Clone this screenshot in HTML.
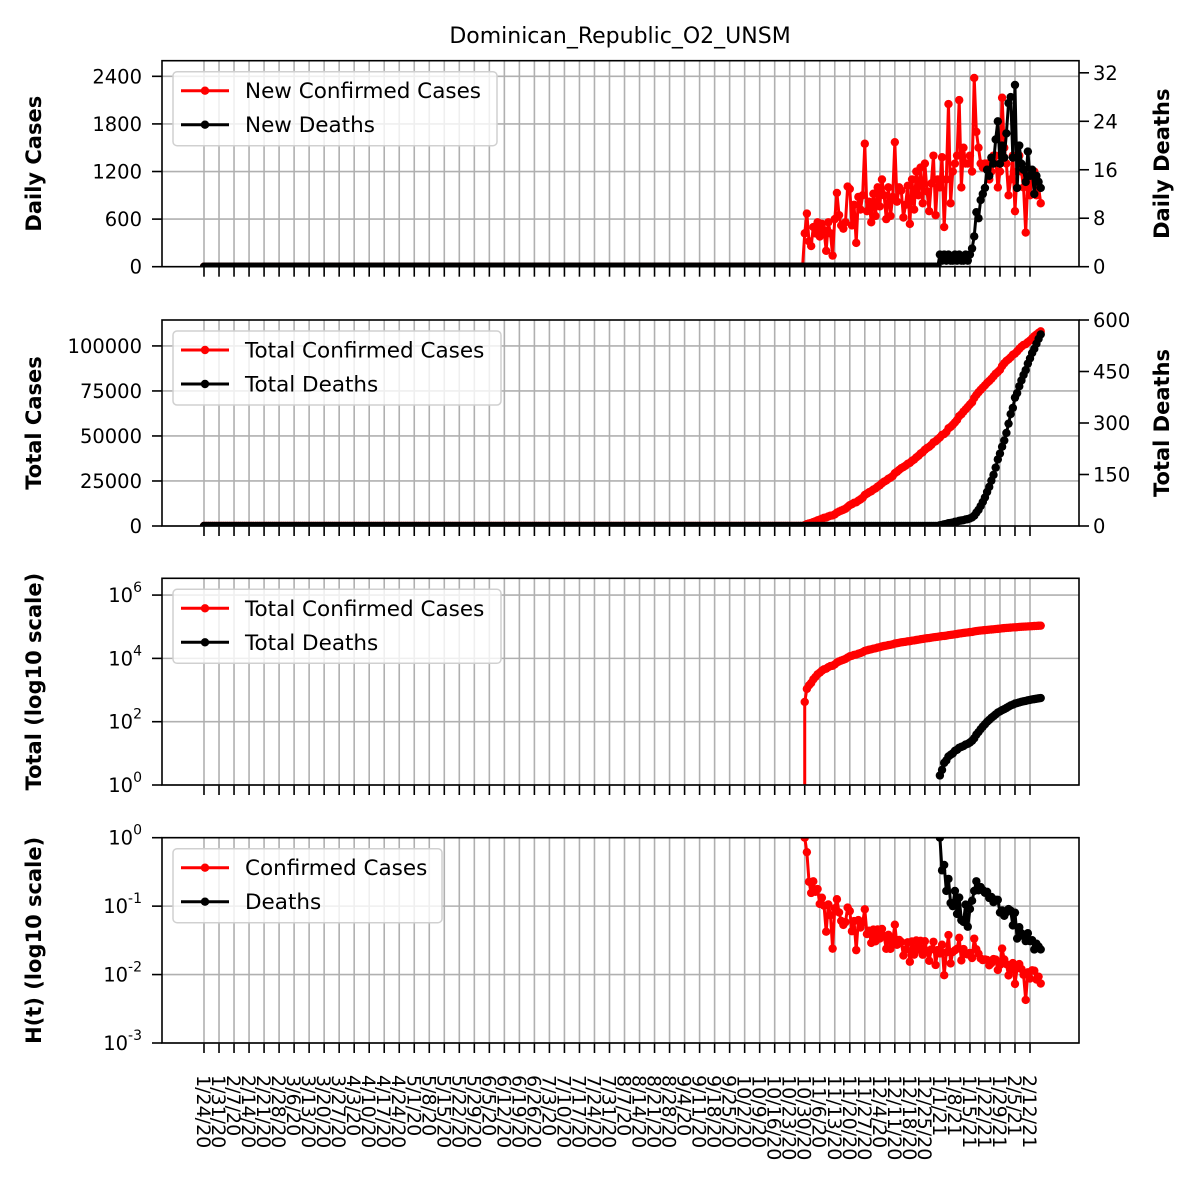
<!DOCTYPE html>
<html><head><meta charset="utf-8"><style>
body{margin:0;background:#fff}
svg{display:block;font-family:"DejaVu Sans","Liberation Sans",sans-serif}
</style></head><body>
<svg id="chart" width="1200" height="1200" viewBox="0 0 1200 1200" xmlns="http://www.w3.org/2000/svg">
<rect width="1200" height="1200" fill="#fff"/>
<text x="620" y="43" font-size="22" text-anchor="middle">Dominican_Republic_O2_UNSM</text>
</svg>
<script>
// ---- data ----
const caseStartDay = 280;
const newCases = [420,670,320,260,500,420,560,380,540,460,
200,560,420,140,600,930,650,520,480,560,
1010,980,520,780,300,880,720,900,1550,700,
820,560,920,640,1000,760,1100,900,600,1000,
640,880,1570,820,1000,960,620,780,1020,540,
1100,720,1200,900,1250,800,1300,950,700,1050,
1400,650,1100,1000,1380,500,1100,2050,800,1200,
1300,1400,2100,1000,1500,1300,1300,1400,1200,2380,
1700,1500,1300,1250,1300,1300,1100,1200,1400,1400,
1000,1200,2130,1500,1300,900,1100,1400,700,1200,
1400,1200,1000,430,1100,900,1200,1200,900,1000,
800];
const deathStartDay = 343;
const newDeaths = [2,1,2,1,2,1,1,2,1,2,1,1,2,1,2,
3,5,9,8,11,12,13,16,15,18,17,21,24,17,20,18,22,27,28,18,30,13,20,17,16,14,19,15,16,12,15,14,13];
const numDays = 391;
const startDate = [2020,0,24];
const dailyCaseTicks = [0,600,1200,1800,2400];
const dailyDeathTicks = [0,8,16,24,32];
const totalCaseTicks = [0,25000,50000,75000,100000];
const totalDeathTicks = [0,150,300,450,600];
const logTotalTicks = [0,2,4,6];
const logHTicks = [-3,-2,-1,0];

// ---- helpers ----
const NS="http://www.w3.org/2000/svg";
const svg=document.getElementById('chart');
function mk(tag,attrs,parent){const e=document.createElementNS(NS,tag);for(const k in attrs)e.setAttribute(k,attrs[k]);(parent||svg).appendChild(e);return e;}
const L=162,R=1079;
const X0=204, PXD=826/385;
const x=d=>X0+d*PXD;
function series(start,vals){const a=new Array(numDays).fill(0);vals.forEach((v,i)=>{if(start+i<numDays)a[start+i]=v;});return a;}
const dc=series(caseStartDay,newCases), dd=series(deathStartDay,newDeaths);
function cum(a){let s=0;return a.map(v=>s+=v);}
const tc=cum(dc), td=cum(dd);
const hc=dc.map((v,i)=>tc[i]>0?v/tc[i]:0), hd=dd.map((v,i)=>td[i]>0?v/td[i]:0);
const weekTicks=[];for(let d=0;d<=385;d+=7)weekTicks.push(d);
function label(d){const t=new Date(startDate[0],startDate[1],startDate[2]+d);return (t.getMonth()+1)+'/'+t.getDate()+'/'+String(t.getFullYear()).slice(2);}

const panels=[
 {top:60.7,bot:266.7},{top:320,bot:526},{top:578.3,bot:785},{top:837.7,bot:1043}
];
function linY(p,lo,hi){return v=>p.bot-(v-lo)/(hi-lo)*(p.bot-p.top);}
function logY(p,lo,hi){return v=>p.bot-(Math.log10(v)-lo)/(hi-lo)*(p.bot-p.top);}

function frame(p,idx){
  const g=mk('g',{});  
  weekTicks.forEach(d=>{
    const l=mk('line',{x1:x(d),x2:x(d),y1:p.top,y2:p.bot,stroke:'#b0b0b0','stroke-width':1.6},g);
     
    mk('line',{x1:x(d),x2:x(d),y1:p.bot,y2:p.bot+10,stroke:'#000','stroke-width':1.6},g);
  });
  return g;
}
function yAxis(p,g,ticks,yf,fmt,side,grid){
  ticks.forEach(t=>{
    const y=yf(t);
    if(grid){const l=mk('line',{x1:L,x2:R,y1:y,y2:y,stroke:'#b0b0b0','stroke-width':1.6},g);}
    const xe=side==='l'?L:R, dx=side==='l'?-10:10;
    mk('line',{x1:xe,x2:xe+dx,y1:y,y2:y,stroke:'#000','stroke-width':1.6},g);
    const tx=mk('text',{x:xe+(side==='l'?-20:14),y:y+7,'font-size':19.5,'text-anchor':side==='l'?'end':'start'},g);
     
    fmt(tx,t);
  });
}
const plain=(tx,t)=>{tx.textContent=String(t);};
const pow=(tx,t)=>{tx.textContent='10';const s=mk('tspan',{dy:-10,'font-size':14},tx);s.textContent=String(t);};
function border(p,g){const r=mk('rect',{x:L,y:p.top,width:R-L,height:p.bot-p.top,fill:'none',stroke:'#000','stroke-width':1.6},g);}
function ylabel(text,cx,cy,g,name){const t=mk('text',{x:0,y:0,'font-size':21,'font-weight':'bold','text-anchor':'middle',transform:`translate(${cx},${cy}) rotate(-90)`},g);t.textContent=text;}
function line(g,vals,yf,color,name,p,opts){
  opts=opts||{};
  const cg=mk('g',{'clip-path':'url(#clip'+opts.clip+')'},g);
   
  let d='',pts=[],prevOk=false;
  vals.forEach((v,i)=>{
    if(opts.log && !(v>0)){prevOk=false;return;}
    const X=x(i),Y=yf(v);
    if(!prevOk){ if(opts.log && i>0 && opts.fromBottom) d+=`M${X},${p.bot+20}L${X},${Y}`; else d+=`M${X},${Y}`; }
    else d+=`L${X},${Y}`;
    prevOk=true; pts.push([X,Y]);
  });
  const pa=mk('path',{d:d,fill:'none',stroke:color,'stroke-width':3,'stroke-linejoin':'round'},cg);
   
  pts.forEach(([X,Y])=>{const c=mk('circle',{cx:X,cy:Y,r:4.2,fill:color},cg);});
}
function legend(p,g,w,items){
  const lg=mk('g',{},g);  
  mk('rect',{x:173,y:p.top+11,width:w,height:74,rx:4,fill:'#fff','fill-opacity':0.8,stroke:'#d0d0d0','stroke-width':1.5},lg);
  items.forEach((it,i)=>{
    const y=p.top+30+i*34;
    const e=mk('g',{},lg);  
    mk('line',{x1:181,x2:229,y1:y,y2:y,stroke:it[1],'stroke-width':3},e);
    mk('circle',{cx:205,cy:y,r:4.2,fill:it[1]},e);
    const t=mk('text',{x:245,y:y+7.5,'font-size':21.5},e); t.textContent=it[0];
  });
}
// clip paths
const defs=mk('defs',{});
panels.forEach((p,i)=>{const c=mk('clipPath',{id:'clip'+i},defs);mk('rect',{x:L,y:p.top,width:R-L,height:p.bot-p.top},c);});

// Panel 1
{const p=panels[0],g=frame(p,0);
 const yl=linY(p,0,2597), yr=linY(p,0,34.0);
 yAxis(p,g,dailyCaseTicks,yl,plain,'l',true);
 yAxis(p,g,dailyDeathTicks,yr,plain,'r',false);
 line(g,dc,yl,'#ff0000','new-cases-series',p,{clip:0});
 line(g,dd,yr,'#000000','new-deaths-series',p,{clip:0});
 border(p,g);
 ylabel('Daily Cases',41,(p.top+p.bot)/2,g,'y-axis-title-left');
 ylabel('Daily Deaths',1169,(p.top+p.bot)/2,g,'y-axis-title-right');
 legend(p,g,324,[['New Confirmed Cases','#ff0000'],['New Deaths','#000']]);}
// Panel 2
{const p=panels[1],g=frame(p,1);
 const yl=linY(p,0,114400), yr=linY(p,0,600);
 yAxis(p,g,totalCaseTicks,yl,plain,'l',true);
 yAxis(p,g,totalDeathTicks,yr,plain,'r',false);
 line(g,tc,yl,'#ff0000','total-cases-series',p,{clip:1});
 line(g,td,yr,'#000000','total-deaths-series',p,{clip:1});
 border(p,g);
 ylabel('Total Cases',41,(p.top+p.bot)/2,g,'y-axis-title-left');
 ylabel('Total Deaths',1169,(p.top+p.bot)/2,g,'y-axis-title-right');
 legend(p,g,328,[['Total Confirmed Cases','#ff0000'],['Total Deaths','#000']]);}
// Panel 3
{const p=panels[2],g=frame(p,2);
 const yl=logY(p,0,6.53);
 yAxis(p,g,logTotalTicks,v=>yl(Math.pow(10,v)),pow,'l',true);
 line(g,tc,yl,'#ff0000','log-total-cases-series',p,{clip:2,log:true,fromBottom:true});
 line(g,td,yl,'#000000','log-total-deaths-series',p,{clip:2,log:true});
 border(p,g);
 ylabel('Total (log10 scale)',41,(p.top+p.bot)/2,g,'y-axis-title-left');
 legend(p,g,328,[['Total Confirmed Cases','#ff0000'],['Total Deaths','#000']]);}
// Panel 4
{const p=panels[3],g=frame(p,3);
 const yl=logY(p,-3,0);
 yAxis(p,g,logHTicks,v=>yl(Math.pow(10,v)),pow,'l',true);
 line(g,hc,yl,'#ff0000','h-cases-series',p,{clip:3,log:true});
 line(g,hd,yl,'#000000','h-deaths-series',p,{clip:3,log:true});
 border(p,g);
 ylabel('H(t) (log10 scale)',41,(p.top+p.bot)/2,g,'y-axis-title-left');
 legend(p,g,269,[['Confirmed Cases','#ff0000'],['Deaths','#000']]);
 weekTicks.forEach(d=>{
   const t=mk('text',{x:0,y:0,'font-size':19,transform:`translate(${x(d)-7},${p.bot+32}) rotate(90)`},g);
   t.textContent=label(d);
   
   
 });}
</script>
</body></html>
